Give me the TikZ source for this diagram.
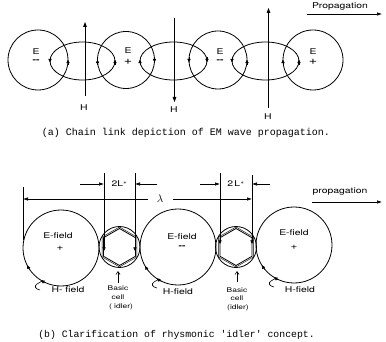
\documentclass[tikz,border=0pt]{standalone}
\usepackage{fontspec}
\setmonofont{Liberation Mono}
\newfontfamily\hand[FakeStretch=1.3]{TeX Gyre Heros}
\usetikzlibrary{arrows.meta}
\newcommand\arctip[3]{\draw[tipm] ([shift={(#3-8:#2)}]#1) arc[start angle=#3-8, end angle=#3, radius=#2];}
\newcommand\tipdn[1]{\draw[tipm] (#1,57) -- (#1,62.5);}
\newcommand\tipup[1]{\draw[tipm] (#1,65) -- (#1,59.5);}
\begin{document}
\begin{tikzpicture}[x=1pt,y=-1pt,
  ring/.style={draw, line width=0.8pt},
  tipm/.style={-{Triangle[length=3.6pt,width=3.2pt]}, line width=0.6pt},
  harrow/.style={-{Triangle[length=5pt,width=3.6pt]}, line width=0.8pt},
  dimarrow/.style={-{Latex[length=5pt,width=3.5pt]}, line width=0.6pt},
  ext/.style={line width=0.6pt},
  lbl/.style={font=\hand\fontsize{8}{9}\selectfont, inner sep=0pt},
  sml/.style={font=\hand\fontsize{6.5}{7.5}\selectfont, inner sep=0pt},
  captxt/.style={font=\ttfamily\fontsize{10}{12}\selectfont, inner sep=0pt},
  hookpic/.pic={\draw[line width=0.6pt] (4,-4) -- (-1,-1) .. controls (-4,1) and (-3,4) .. (2,5);}]
\useasboundingbox (0,0) rectangle (386,342);

% ---------------- (a) ----------------
\draw[ring] (38,60) circle[radius=30];
\draw[ring] (126,60) circle[radius=28.5];
\draw[ring] (218,60) circle[radius=29];
\draw[ring] (313,60) circle[radius=30];
\draw[ring] (82.5,61) ellipse[x radius=32.5, y radius=19];
\draw[ring] (173.5,61) ellipse[x radius=33.5, y radius=19];
\draw[ring] (265.5,61) ellipse[x radius=33.5, y radius=19];

\tipdn{50}\tipup{68}\tipup{97.5}\tipup{115}
\tipup{140}\tipdn{154.5}\tipdn{189}\tipdn{207}
\tipdn{232}\tipup{247}\tipup{283}\tipup{299}

\node[lbl] (e1) at (36,52) {E};  \node[lbl] (s1) at (36,61) {\bfseries --};
\node[lbl] (e2) at (128,51) {E}; \node[lbl] (s2) at (128,62) {\fontsize{11}{11}\selectfont +};
\node[lbl] (e3) at (220,52) {E}; \node[lbl] (s3) at (220,61) {\bfseries --};
\node[lbl] (e4) at (313,52) {E}; \node[lbl] (s4) at (313,62) {\fontsize{11}{11}\selectfont +};

\coordinate (h1s) at (85,96);    \coordinate (h1e) at (85,22);
\coordinate (h2s) at (174.5,18); \coordinate (h2e) at (174.5,102);
\coordinate (h3s) at (268.5,108);\coordinate (h3e) at (268.5,8);
\draw[harrow] (h1s) -- (h1e);
\draw[harrow] (h2s) -- (h2e);
\draw[harrow] (h3s) -- (h3e);
\node[lbl] (hl1) at (84,108) {H};
\node[lbl] (hl2) at (174,110) {H};
\node[lbl] (hl3) at (268,117) {H};

\node[lbl] (prop1) at (340,6) {Propagation};
\coordinate (p1s) at (307,14); \coordinate (p1e) at (382,14);
\draw[dimarrow] (p1s) -- (p1e);

\node[captxt] (capa) at (186,133) {(a) Chain link depiction of EM wave propagation.};

% ---------------- (b) ----------------
\draw[ring] (61,248) circle[radius=38];
\draw[ring] (178,247) circle[radius=38];
\draw[ring] (294,245) circle[radius=38];

\draw[ring] (119.5,247) circle[radius=20.5];
\draw[line width=0.8pt] (119.5,247) +(90:18.5) -- +(150:18.5) -- +(210:18.5) -- +(270:18.5) -- +(330:18.5) -- +(30:18.5) -- cycle;
\draw[line width=0.4pt] (119.5,247) +(90:20) -- +(150:20) -- +(210:20) -- +(270:20) -- +(330:20) -- +(30:20) -- cycle;
\draw[ring] (236,247) circle[radius=20.5];
\draw[line width=0.8pt] (236,247) +(90:18.5) -- +(150:18.5) -- +(210:18.5) -- +(270:18.5) -- +(330:18.5) -- +(30:18.5) -- cycle;
\draw[line width=0.4pt] (236,247) +(90:20) -- +(150:20) -- +(210:20) -- +(270:20) -- +(330:20) -- +(30:20) -- cycle;

% extension lines
\coordinate (v1t) at (23,187);  \coordinate (v1b) at (23,240);
\coordinate (v2t) at (104,173); \coordinate (v2b) at (104,251);
\coordinate (v3t) at (135,173); \coordinate (v3b) at (135,251);
\coordinate (v4t) at (220,173); \coordinate (v4b) at (220,244);
\coordinate (v5t) at (252,175); \coordinate (v5b) at (252,244);
\draw[ext] (v1t) -- (v1b);
\draw[ext,-{Triangle[length=3.6pt,width=3.2pt]}] (v2t) -- (v2b);
\draw[ext,-{Triangle[length=3.6pt,width=3.2pt]}] (v3t) -- (v3b);
\draw[ext,-{Triangle[length=3.6pt,width=3.2pt]}] (v4t) -- (v4b);
\draw[ext,-{Triangle[length=3.6pt,width=3.2pt]}] (v5t) -- (v5b);

% lambda
\node[font=\fontsize{11}{11}\selectfont, inner sep=0pt] (lam) at (160,199) {$\lambda$};
\coordinate (l1s) at (148,199); \coordinate (l1e) at (23,199);
\coordinate (l2s) at (173,199); \coordinate (l2e) at (252,199);
\draw[dimarrow] (l1s) -- (l1e);
\draw[dimarrow] (l2s) -- (l2e);

% 2L*
\node[lbl] (dl1) at (119.5,184) {2L$^{*}$};
\node[lbl] (dl2) at (236,184) {2\,L$^{*}$};
\coordinate (a1s) at (80,184);  \coordinate (a1e) at (104,184);
\coordinate (a2s) at (157,184); \coordinate (a2e) at (135,184);
\coordinate (a3s) at (200,184); \coordinate (a3e) at (220,184);
\coordinate (a4s) at (270,184); \coordinate (a4e) at (252,184);
\draw[dimarrow] (a1s) -- (a1e);
\draw[dimarrow] (a2s) -- (a2e);
\draw[dimarrow] (a3s) -- (a3e);
\draw[dimarrow] (a4s) -- (a4e);

\node[lbl] (prop2) at (340,192) {propagation};
\coordinate (p2s) at (312,202); \coordinate (p2e) at (382,202);
\draw[dimarrow] (p2s) -- (p2e);

% field labels
\node[lbl] (ef1) at (58,236) {E-field};  \node[lbl] (pl1) at (60,248) {\fontsize{9}{9}\selectfont +};
\node[lbl] (ef2) at (182,237) {E-field}; \node[lbl] (mi2) at (182,247) {\bfseries --};
\node[lbl] (ef3) at (294,233) {E-field}; \node[lbl] (pl3) at (294,247) {\fontsize{9}{9}\selectfont +};

\arctip{61,248}{38}{153}\arctip{61,248}{38}{122}
\arctip{178,247}{38}{150}\arctip{178,247}{38}{124}
\arctip{294,245}{38}{148}\arctip{294,245}{38}{122}
\pic at (38,285) {hookpic};
\pic at (155,283) {hookpic};
\pic at (272,282) {hookpic};
\node[lbl] (hf1) at (68,290) {H- field};
\node[lbl] (hf2) at (178,292) {H-field};
\node[lbl] (hf3) at (300,290) {H-field};

% basic cell labels
\coordinate (b1s) at (118,283); \coordinate (b1e) at (118,271);
\coordinate (b2s) at (237,282); \coordinate (b2e) at (237,271);
\draw[ext,-{Straight Barb[length=3pt,width=4pt]}] (b1s) -- (b1e);
\draw[ext,-{Straight Barb[length=3pt,width=4pt]}] (b2s) -- (b2e);
\node[sml] (bc1a) at (118,288) {Basic};
\node[sml] (bc1b) at (118,297) {cell};
\node[sml] (bc1c) at (121,307) {( idler)};
\node[sml] (bc2a) at (237,290) {Basic};
\node[sml] (bc2b) at (237,298) {cell};
\node[sml] (bc2c) at (238,308) {(idler)};

\node[captxt, font=\ttfamily\fontsize{9.8}{12}\selectfont] (capb) at (176.5,335) {(b) Clarification of rhysmonic 'idler' concept.};
\end{tikzpicture}
\end{document}
